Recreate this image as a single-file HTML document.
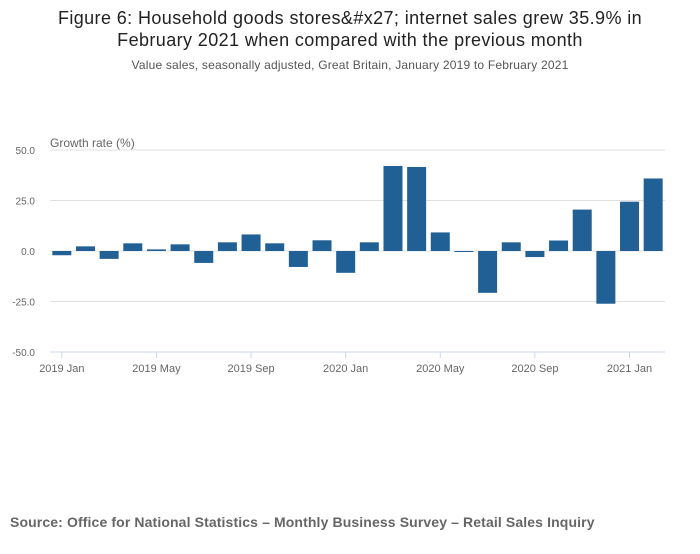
<!DOCTYPE html>
<html><head><meta charset="utf-8"><style>
body{margin:0;width:700px;height:549px;background:#fff;font-family:"Liberation Sans",sans-serif;overflow:hidden}
</style></head><body>
<svg width="700" height="549" id="c">
<text x="350" y="24" text-anchor="middle" font-size="18" letter-spacing="0.4" fill="#222">Figure 6: Household goods stores&amp;#x27; internet sales grew 35.9% in</text>
<text x="350" y="46" text-anchor="middle" font-size="18" letter-spacing="0.4" fill="#222">February 2021 when compared with the previous month</text>
<text x="350" y="69" text-anchor="middle" font-size="12" letter-spacing="0.2" fill="#555">Value sales, seasonally adjusted, Great Britain, January 2019 to February 2021</text>
<text x="50" y="147" font-size="12" fill="#666">Growth rate (%)</text>
<g id="grid"></g><g id="bars"></g><g id="xaxis"></g>
<text x="10" y="527" font-size="14" font-weight="bold" letter-spacing="0.12" fill="#666">Source: Office for National Statistics – Monthly Business Survey – Retail Sales Inquiry</text>
</svg>
<script>
const categories=["2019 Jan","2019 Feb","2019 Mar","2019 Apr","2019 May","2019 Jun","2019 Jul","2019 Aug","2019 Sep","2019 Oct","2019 Nov","2019 Dec","2020 Jan","2020 Feb","2020 Mar","2020 Apr","2020 May","2020 Jun","2020 Jul","2020 Aug","2020 Sep","2020 Oct","2020 Nov","2020 Dec","2021 Jan","2021 Feb"];
const values=[-2.1,2.3,-3.9,3.8,0.8,3.3,-5.9,4.3,8.2,3.8,-7.9,5.3,-10.8,4.3,42.1,41.6,9.2,-0.5,-20.7,4.3,-3.0,5.2,20.5,-26.1,24.4,35.9];
const yTicks=[50,25,0,-25,-50];
const yTickLabels=["50.0","25.0","0.0","-25.0","-50.0"];
const xTickIdx=[0,4,8,12,16,20,24];
const NS="http://www.w3.org/2000/svg";
const L=50,R=665,T=150,B=352,yMin=-50,yMax=50;
const y=v=>T+(yMax-v)/(yMax-yMin)*(B-T);
const bw=(R-L)/categories.length;
const xc=i=>L+bw*(i+0.5);
function mk(t,a,p){const e=document.createElementNS(NS,t);for(const k in a)e.setAttribute(k,a[k]);p.appendChild(e);return e;}
const grid=document.getElementById('grid'),bars=document.getElementById('bars'),xa=document.getElementById('xaxis');
yTicks.forEach((v,i)=>{
 if(v!==-50){const g=mk('line',{x1:L,x2:R,y1:y(v),y2:y(v),stroke:'#e0e0e0','stroke-width':1},grid);
 
 }
 const t=mk('text',{x:35,y:y(v)+4,'font-size':10,fill:'#666','text-anchor':'end'},grid);t.textContent=yTickLabels[i];
 
 
});
values.forEach((v,i)=>{
 const r=mk('rect',{x:xc(i)-9.5,width:19,y:Math.min(y(v),y(0)),height:Math.abs(y(v)-y(0)),fill:'#206095'},bars);
 
 
});
const ax=mk('line',{x1:L,x2:R,y1:B,y2:B,stroke:'#ccd6eb','stroke-width':1},xa);


xTickIdx.forEach(i=>{
 const tk=mk('line',{x1:xc(i),x2:xc(i),y1:B,y2:B+6,stroke:'#ccd6eb'},xa);
 
 
 const t=mk('text',{x:xc(i),y:B+20,'font-size':11,fill:'#666','text-anchor':'middle'},xa);t.textContent=categories[i];
 
 
});
</script>
</body></html>
